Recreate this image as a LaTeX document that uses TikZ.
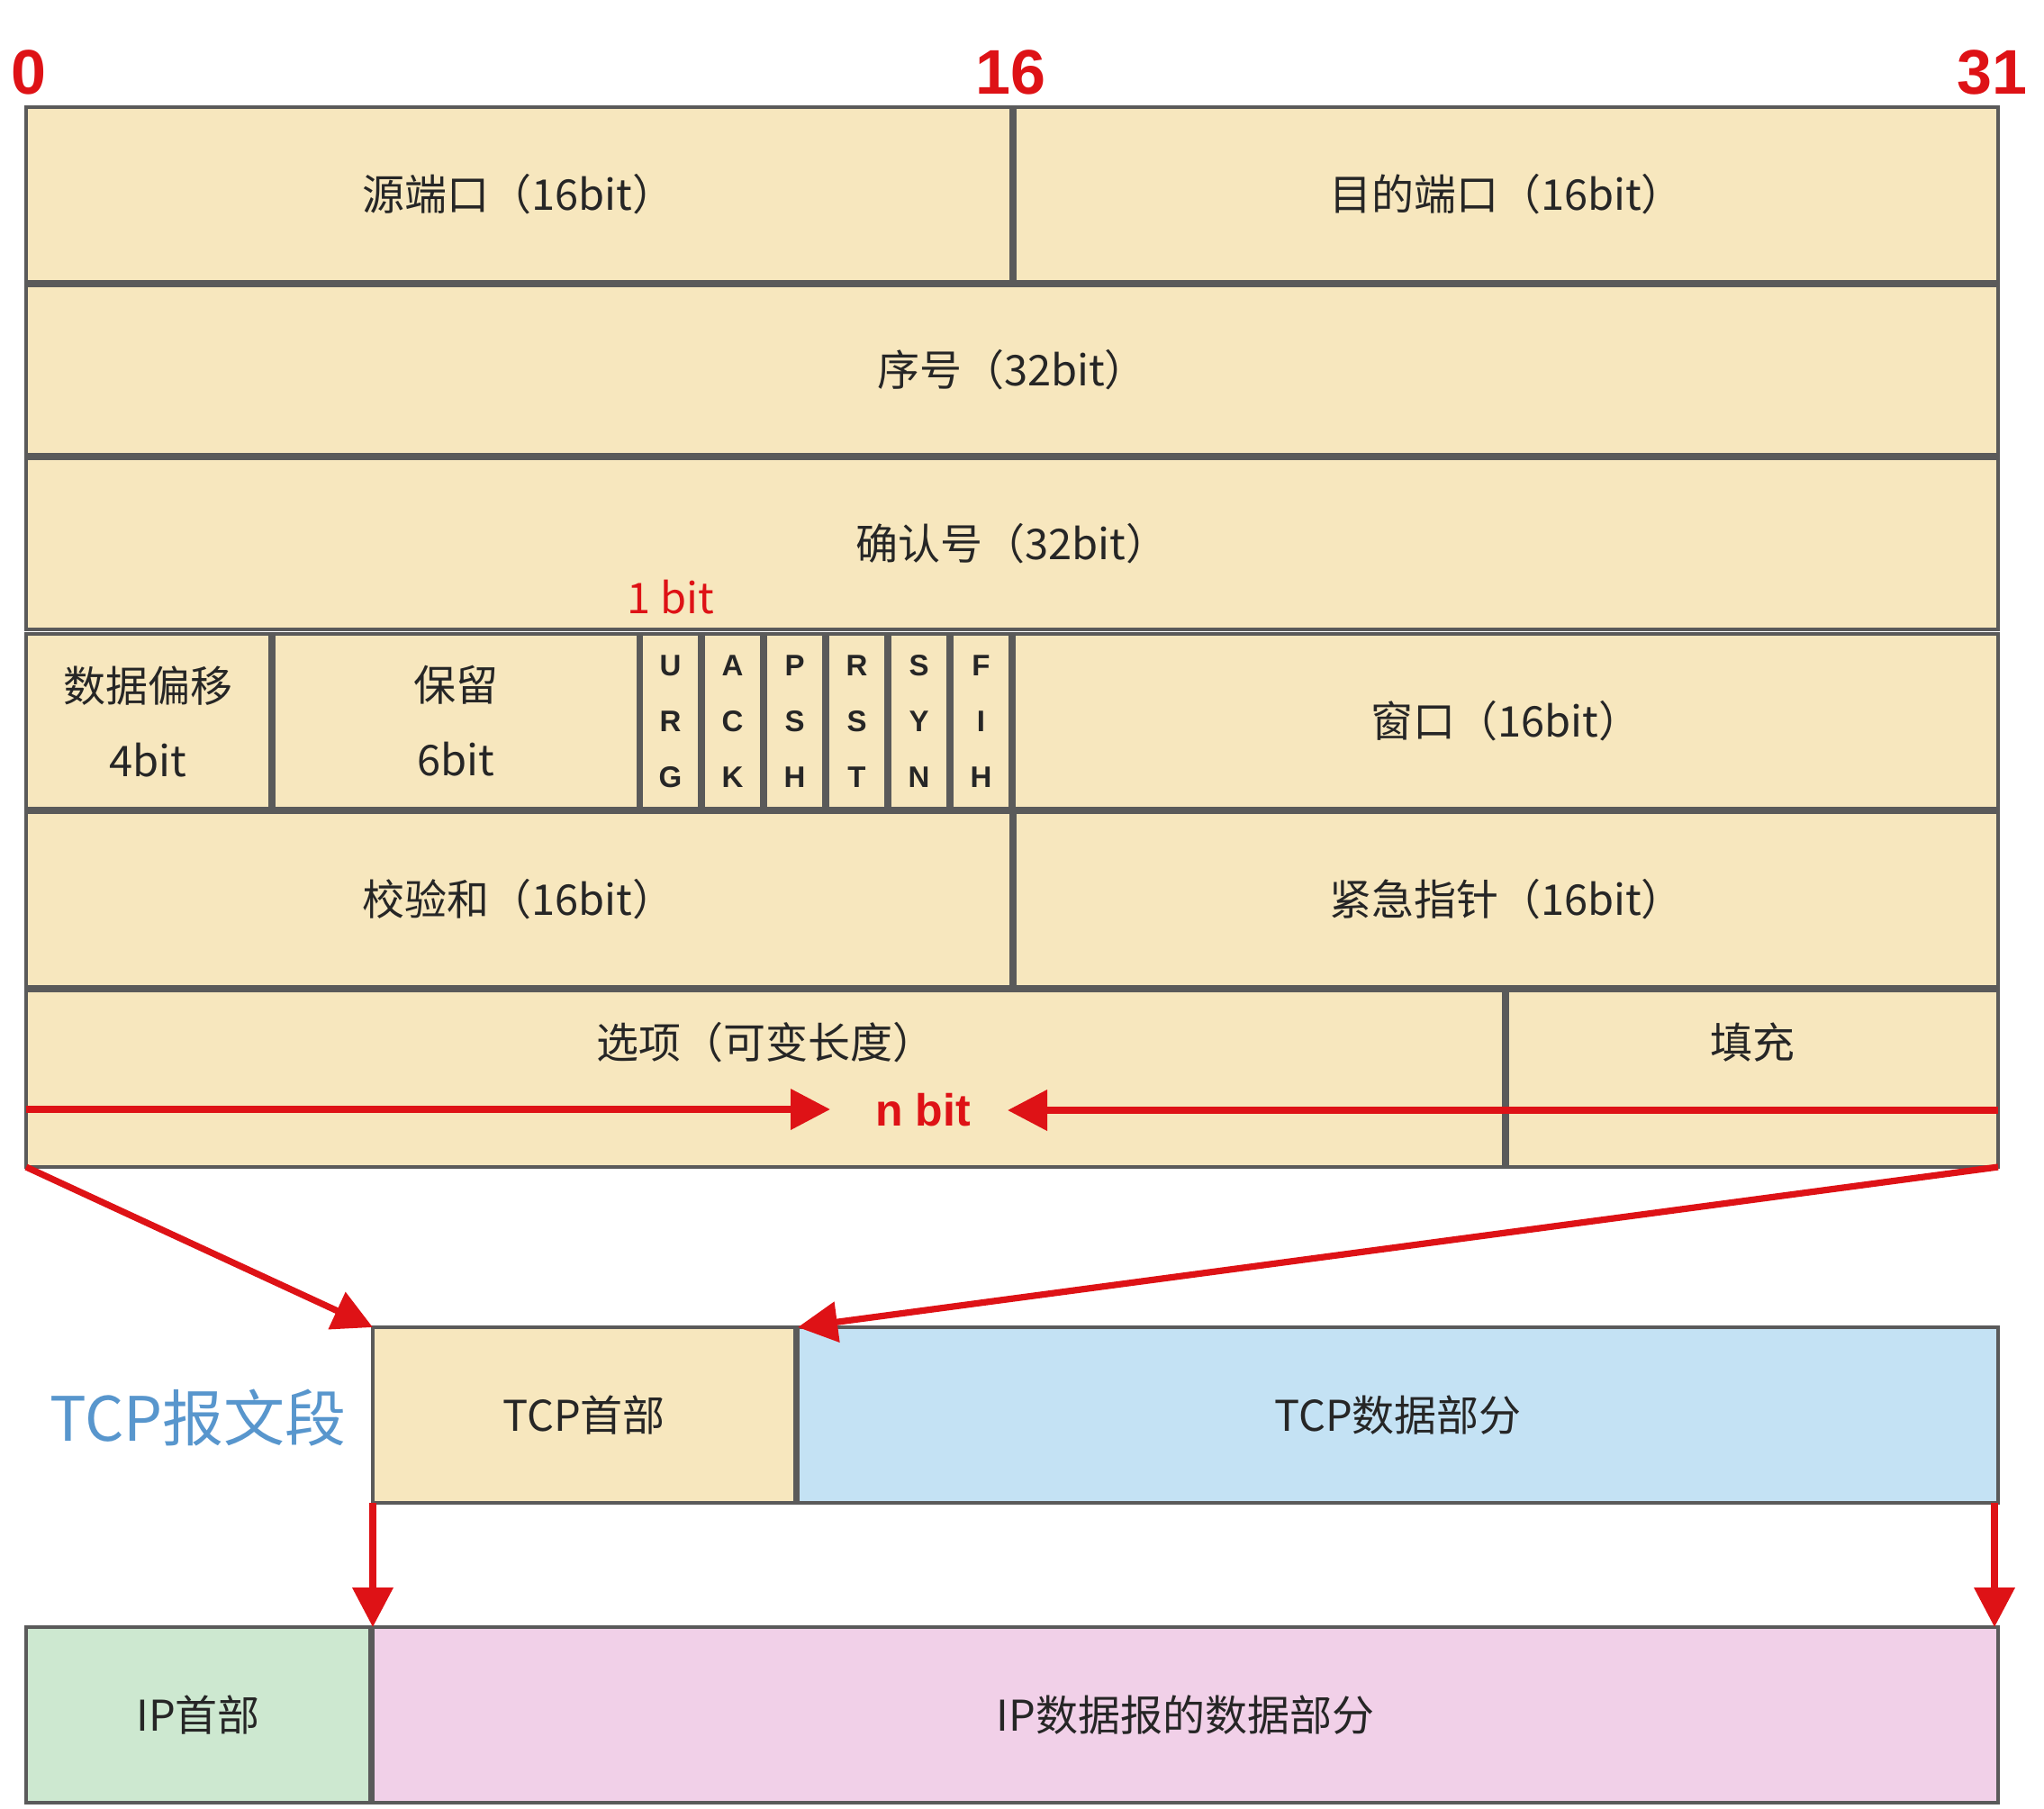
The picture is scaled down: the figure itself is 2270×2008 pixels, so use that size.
\documentclass[tikz,border=0pt]{standalone}
\usepackage{fontspec}
\newfontfamily\cjk{Noto Sans CJK SC}
\newfontfamily\lat{Liberation Sans}
\usetikzlibrary{arrows.meta}
\definecolor{hdrfill}{RGB}{247,231,190}
\definecolor{datablue}{RGB}{196,226,244}
\definecolor{ipgreen}{RGB}{205,232,208}
\definecolor{ippink}{RGB}{241,208,232}
\definecolor{edgegray}{RGB}{90,90,90}
\definecolor{arrred}{RGB}{222,18,22}
\definecolor{titleblue}{RGB}{88,150,205}
\definecolor{txtgray}{RGB}{38,38,38}
\tikzset{
  cellbox/.style={draw=edgegray, line width=1.9pt, fill=hdrfill, inner sep=0pt, outer sep=0pt,
    font=\cjk\fontsize{23.5}{41.5}\selectfont, text=txtgray, align=center},
  flagbox/.style={font=\lat\bfseries\fontsize{16.5}{31}\selectfont},
  bluebox/.style={fill=datablue},
  greenbox/.style={fill=ipgreen},
  pinkbox/.style={fill=ippink},
  bitnum/.style={font=\lat\bfseries\fontsize{35}{40}\selectfont, text=arrred, inner sep=0pt},
  redarrow/.style={draw=arrred, line width=3.6pt, -{Triangle[length=22pt,width=22pt]}},
}
\newcommand\tcell[7]{\node[cellbox,#6,minimum width={(#4-#2)*0.5pt}, minimum height={(#5-#3)*0.5pt}] (#1) at ({(#2+#4)/2},{(#3+#5)/2}) {#7};}
\begin{document}
\begin{tikzpicture}[x=0.5pt, y=-0.5pt]
\useasboundingbox (0,0) rectangle (2270,2008);
\fill[white] (0,0) rectangle (2270,2008);
% bit numbers
\node[bitnum] (n0) at (32,80) {0};
\node[bitnum] (n16) at (1122,80) {16};
\node[bitnum] (n31) at (2212,80) {31};
% row 1
\tcell{sport}{29}{119}{1123}{313}{}{源端口（16bit）}
\tcell{dport}{1127}{119}{2219}{313}{}{目的端口（16bit）}
% row 2
\tcell{seq}{29}{317}{2219}{505}{}{序号（32bit）}
% row 3
\tcell{ack}{29}{509}{2219}{699}{}{确认号（32bit）}
\node[font=\cjk\fontsize{23.5}{28}\selectfont, text=arrred, inner sep=0pt] (onebit) at (745,663) {1 bit};
% row 4
\tcell{off}{29}{704}{300}{898}{}{数据偏移\\4bit}
\tcell{rsv}{304}{704}{709}{898}{}{保留\\6bit}
\tcell{urg}{712}{704}{777}{898}{flagbox}{U\\R\\G}
\tcell{fack}{781}{704}{846}{898}{flagbox}{A\\C\\K}
\tcell{psh}{850}{704}{915}{898}{flagbox}{P\\S\\H}
\tcell{rst}{919}{704}{984}{898}{flagbox}{R\\S\\T}
\tcell{syn}{988}{704}{1053}{898}{flagbox}{S\\Y\\N}
\tcell{fin}{1057}{704}{1122}{898}{flagbox}{F\\I\\H}
\tcell{win}{1126}{704}{2219}{898}{}{窗口（16bit）}
% row 5
\tcell{chk}{29}{902}{1123}{1096}{}{校验和（16bit）}
\tcell{urgp}{1127}{902}{2219}{1096}{}{紧急指针（16bit）}
% row 6
\tcell{opt}{29}{1100}{1670}{1296}{}{}
\tcell{pad}{1674}{1100}{2219}{1296}{}{}
\node[font=\cjk\fontsize{23.5}{28}\selectfont, text=txtgray, inner sep=0pt] (optlbl) at (850,1158) {选项（可变长度）};
\node[font=\cjk\fontsize{23.5}{28}\selectfont, text=txtgray, inner sep=0pt] (padlbl) at (1946,1158) {填充};
\node[font=\lat\bfseries\fontsize{25}{30}\selectfont, text=arrred, inner sep=0pt] (nb) at (1025,1233) {n bit};
\coordinate (nlt) at (922,1232);
\coordinate (nrt) at (1119,1233);
\draw[redarrow] (opt.west |- nlt) -- (nlt);
\draw[redarrow] (pad.east |- nrt) -- (nrt);
% TCP segment
\node[font=\cjk\fontsize{34}{40}\selectfont, text=titleblue, inner sep=0pt] (title) at (220,1575) {TCP报文段};
\tcell{tcph}{414}{1474}{883}{1669}{}{TCP首部}
\tcell{tcpd}{886}{1474}{2219}{1669}{bluebox}{TCP数据部分}
% IP datagram
\tcell{iph}{29}{1807}{411}{2002}{greenbox}{IP首部}
\tcell{ipd}{414}{1807}{2219}{2002}{pinkbox}{IP数据报的数据部分}
% connectors
\draw[redarrow] (opt.south west) -- (tcph.north west);
\draw[redarrow] (pad.south east) -- (tcpd.north west);
\draw[redarrow] (tcph.south west) -- (ipd.north west);
\draw[redarrow] ([xshift=-2pt]tcpd.south east) -- ([xshift=-2pt]ipd.north east);
\end{tikzpicture}
\end{document}
